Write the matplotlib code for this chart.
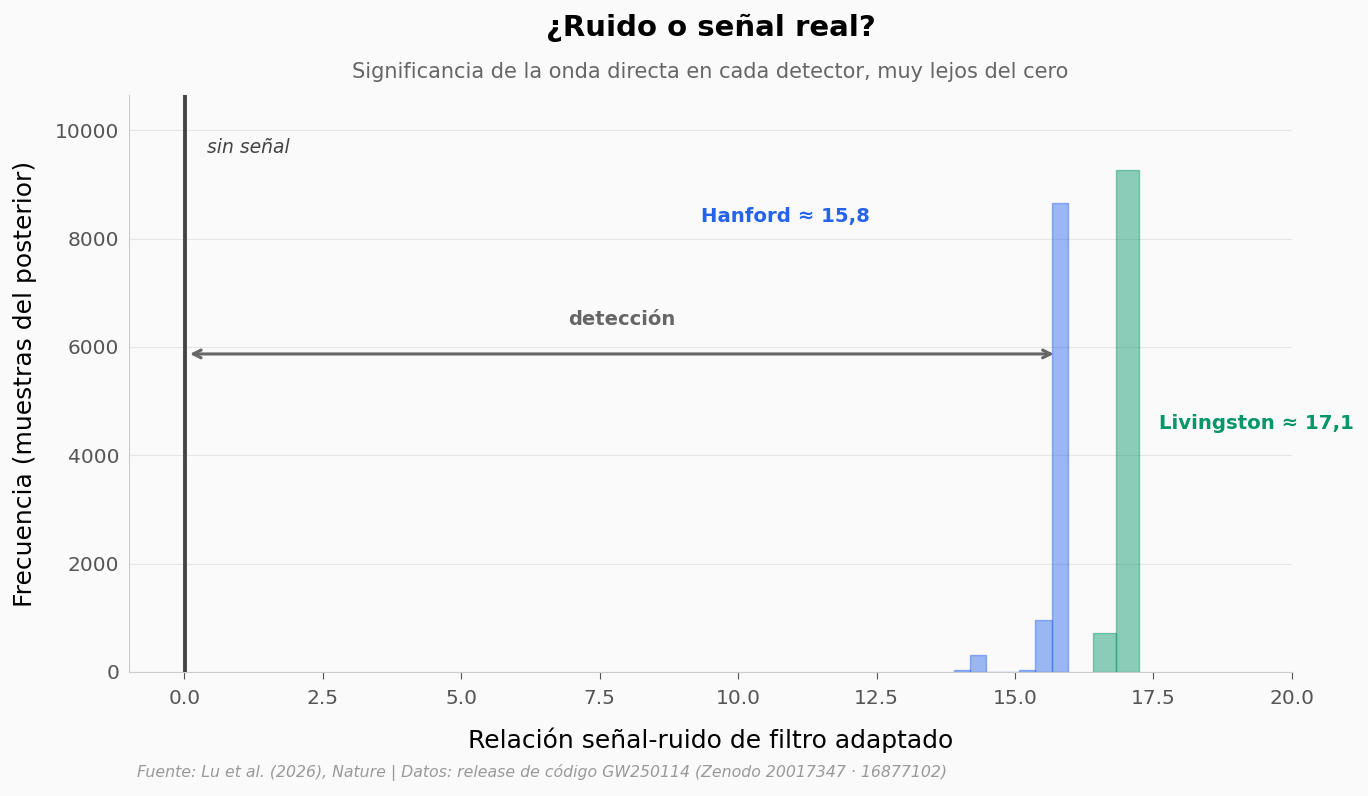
import matplotlib
matplotlib.use('Agg')
import matplotlib.pyplot as plt

# histogram bins (left edges, widths, counts)
hanford_edges = [13.89, 14.185, 14.48, 14.775, 15.07, 15.365, 15.66, 15.955]
hanford_counts = [30, 310, 0, 8, 30, 955, 8650]
livingston_edges = [16.40, 16.82, 17.24]
livingston_counts = [720, 9260]

hanford_snr = 15.8
livingston_snr = 17.1

blue = '#2563eb'
green = '#059669'
bg = '#fafafa'

fig = plt.figure(figsize=(13.68, 7.96), dpi=100, facecolor=bg)
ax = fig.add_axes([0.0943, 0.1558, 0.8501, 0.7249], facecolor=bg)

ax.bar(hanford_edges[:-1], hanford_counts,
       width=[b - a for a, b in zip(hanford_edges[:-1], hanford_edges[1:])],
       align='edge', color=blue, alpha=0.45, edgecolor=blue, linewidth=1.0)
ax.bar(livingston_edges[:-1], livingston_counts,
       width=[b - a for a, b in zip(livingston_edges[:-1], livingston_edges[1:])],
       align='edge', color=green, alpha=0.45, edgecolor=green, linewidth=1.0)

ax.axvline(0.01, color='#444444', lw=2.8, zorder=3)
ax.text(0.4, 9680, 'sin señal', style='italic', fontsize=13.5, color='#444444', va='center')

ax.annotate('', xy=(hanford_snr - 0.05, 5870), xytext=(0.05, 5870),
            arrowprops=dict(arrowstyle='<->', color='#666666', lw=2.2, mutation_scale=14))
ax.text(hanford_snr / 2, 6500, 'detección', ha='center', va='center',
        fontsize=14, fontweight='bold', color='#666666')

ax.text(10.85, 8400, 'Hanford ≈ 15,8', ha='center', va='center',
        fontsize=14.2, fontweight='bold', color=blue)
ax.text(17.6, 4580, 'Livingston ≈ 17,1', ha='left', va='center',
        fontsize=14.2, fontweight='bold', color=green, clip_on=False)

ax.set_xlim(-1, 20)
ax.set_ylim(0, 10650)
ax.set_xticks([0, 2.5, 5, 7.5, 10, 12.5, 15, 17.5, 20])
ax.set_yticks([0, 2000, 4000, 6000, 8000, 10000])
ax.tick_params(labelsize=14.5, colors='#555555', length=5)
ax.tick_params(axis='x', pad=7)
ax.tick_params(axis='y', length=0, pad=7)
ax.grid(axis='y', color='#e6e6e6', lw=0.8)
ax.set_axisbelow(True)
for s in ['top', 'right']:
    ax.spines[s].set_visible(False)
for s in ['left', 'bottom']:
    ax.spines[s].set_color('#cccccc')

ax.set_xlabel('Relación señal-ruido de filtro adaptado', fontsize=18, labelpad=14)
ax.set_ylabel('Frecuencia (muestras del posterior)', fontsize=18, labelpad=13)

fig.text(0.5195, 0.965, '¿Ruido o señal real?', ha='center', va='center',
         fontsize=21, fontweight='bold')
fig.text(0.5195, 0.910, 'Significancia de la onda directa en cada detector, muy lejos del cero',
         ha='center', va='center', fontsize=15, color='#666666')
fig.text(0.100, 0.029, 'Fuente: Lu et al. (2026), Nature | Datos: release de código GW250114 (Zenodo 20017347 · 16877102)',
         ha='left', va='center', fontsize=11.3, style='italic', color='#999999')

fig.savefig('out.png', dpi=100, facecolor=bg)
